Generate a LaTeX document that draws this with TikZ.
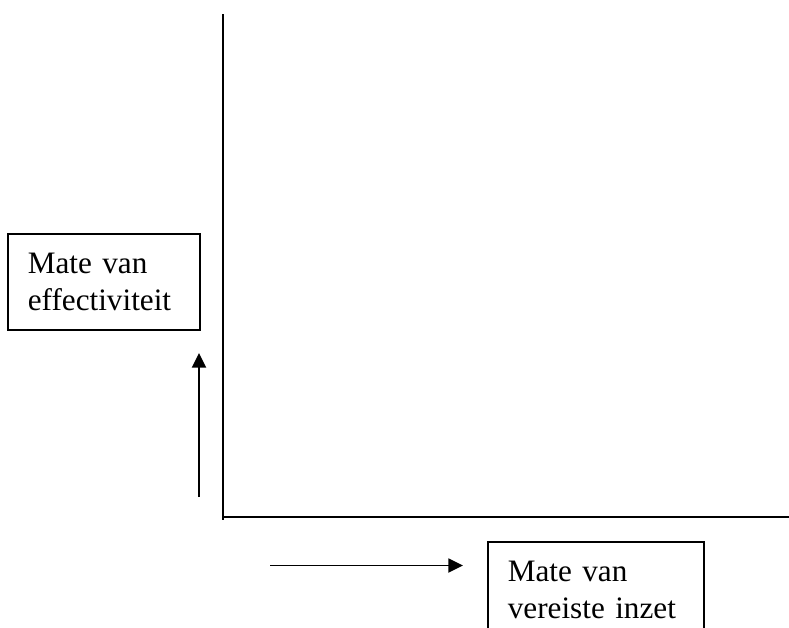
\documentclass[tikz,border=0pt]{standalone}
\usepackage{fontspec}
\setmainfont{Liberation Serif}
\usetikzlibrary{arrows.meta}
\usetikzlibrary{positioning}

\begin{document}
\begin{tikzpicture}[x=0.75pt,y=-0.75pt,line width=1.4pt,
  vak/.style={draw,line width=1.3pt,anchor=north west,align=left,inner xsep=15pt,inner ysep=0pt,minimum height=72pt,font=\fontsize{23.4}{27.5}\selectfont},
  pijl/.style={-{Triangle[length=11pt,width=10.5pt]}}]
  \useasboundingbox (0,0) rectangle (789,628);
  \coordinate (ytop) at (222.7,14);
  \coordinate (ybot) at (222.7,520);
  \coordinate (o) at (222.7,517);
  \coordinate (xend) at (789,517);
  \coordinate (ya) at (199,497);
  \coordinate (yb) at (199,353);
  \coordinate (xa) at (270,565.5);
  \coordinate (xb) at (463,565.5);
  \node[vak,text width=114pt] (eff) at (7,233) {Mate van\\effectiviteit};
  \node[vak,text width=132pt] (inzet) at (487,541) {Mate van\\vereiste inzet};
  \draw (ytop)--(ybot);
  \draw (o)--(xend);
  \draw[pijl] (ya)--(yb);
  \draw[pijl] (xa)--(xb);
\end{tikzpicture}
\end{document}
